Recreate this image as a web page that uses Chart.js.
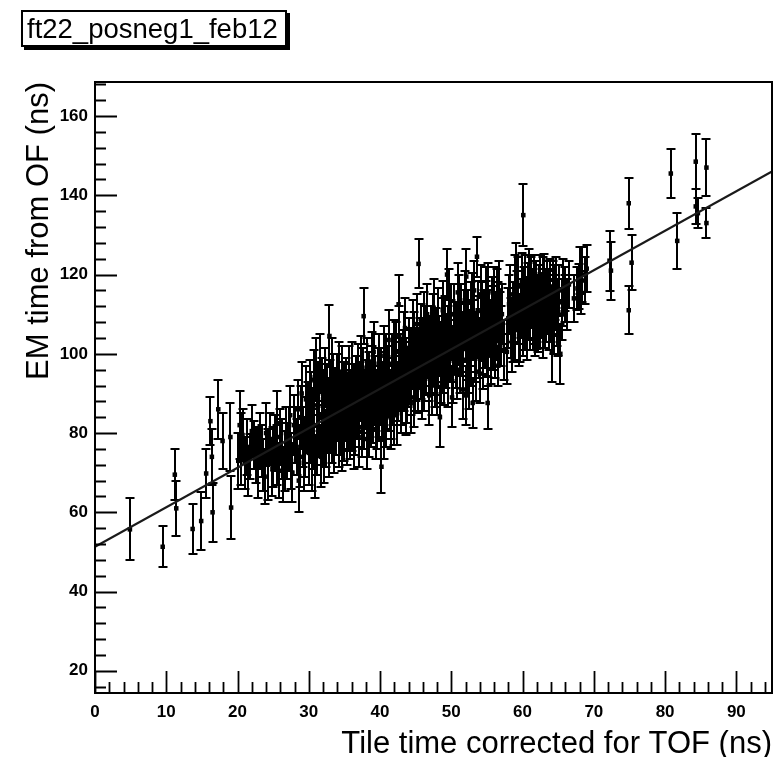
<!DOCTYPE html>
<html>
<head>
<meta charset="utf-8">
<script src="https://cdn.jsdelivr.net/npm/chart.js@4/dist/chart.umd.min.js"></script>
<style>
  html, body { margin: 0; padding: 0; background: #fff; overflow: hidden; }
  #wrap { position: relative; width: 776px; height: 757px; }
  #chart { position: absolute; left: 0; top: 0; }
  #tbox {
    position: absolute; left: 21px; top: 10px; width: 266px; height: 37px;
    box-sizing: border-box; border: 2px solid #000; box-shadow: 3px 3px 0 #000;
    background: #fff; font-family: "Liberation Sans", Arial, sans-serif; font-size: 27.5px;
    line-height: 33px; padding-left: 4px; white-space: nowrap; color: #000; z-index: 2;
  }
</style>
</head>
<body>
<div id="wrap">
  <canvas id="chart" width="776" height="757"></canvas>
  <div id="tbox">ft22_posneg1_feb12</div>
</div>
<script>
// ---- data ----
const xValues = [
  4.9, 9.5, 11.2, 11.4, 13.7, 14.9, 15.6, 16.2, 16.4, 16.5, 17.3, 17.9, 19.0, 19.1,
  20.3, 20.5, 21.0, 21.8, 22.3, 22.9, 23.4, 23.8, 24.3, 24.6, 25.0, 25.5, 25.8, 26.2, 26.4, 26.8, 27.2, 27.5, 27.9, 28.3, 28.6, 28.9, 29.2, 29.3, 29.6, 29.8,
  30.0, 30.2, 30.4, 30.6, 30.9, 31.0, 31.2, 31.5, 31.7, 31.9, 32.1, 32.4, 32.6, 32.9, 33.1, 33.4, 33.6, 33.9, 34.2, 34.4, 34.6, 34.9, 35.1, 35.4, 35.6, 35.9, 36.1, 36.3, 36.6, 36.8, 37.0, 37.3, 37.7, 37.9, 38.2, 38.4, 38.7, 38.9, 39.2, 39.4, 39.7, 39.9,
  40.2, 40.4, 40.6, 40.9, 41.1, 41.4, 41.6, 41.9, 42.1, 42.4, 42.6, 42.9, 43.1, 43.4, 43.6, 43.9, 44.2, 44.3, 44.6, 44.9, 45.1, 45.4, 45.6, 45.9, 46.1, 46.4, 46.7, 46.9, 47.2, 47.5, 47.7, 48.0, 48.2, 48.4, 48.7, 48.9, 49.2, 49.4, 49.6, 49.9,
  50.1, 50.3, 50.6, 50.8, 51.1, 51.3, 51.6, 51.8, 52.1, 52.1, 52.4, 52.6, 52.9, 53.0, 53.3, 53.6, 53.8, 54.0, 54.3, 54.5, 54.8, 55.1, 55.1, 55.4, 55.7, 55.9, 56.2, 56.4, 56.6, 56.8, 57.1, 57.4, 57.8, 58.1, 58.4, 58.6, 58.9, 59.1, 59.3, 59.7,
  60.1, 60.2, 60.4, 60.7, 60.9, 61.0, 61.3, 61.6, 61.8, 62.0, 62.3, 62.6, 62.8, 63.0, 63.3, 63.6, 63.9, 64.1, 64.3, 64.6, 64.8, 65.3, 65.5, 65.7, 65.9, 66.3, 67.7, 67.9, 68.4, 68.7, 69.0,
  72.2, 72.4, 74.9, 74.9, 75.3, 80.8, 81.7, 84.3, 84.3, 84.6, 85.8, 85.8,
  20.1, 20.7, 21.3, 21.5, 22.0, 22.6, 23.1, 23.6, 24.0, 24.9,
  25.2, 25.6, 26.0, 26.6, 27.0, 27.4, 27.7, 28.1, 28.5, 28.8,
  29.0, 29.5, 29.9, 30.1, 30.3, 30.5, 30.7, 30.8, 31.1, 31.3,
  31.4, 31.6, 31.8, 32.0, 32.2, 32.3, 32.5, 32.7, 32.8, 33.0,
  33.2, 33.3, 33.5, 33.7, 33.8, 34.0, 34.1, 34.3, 34.5, 34.7,
  34.8, 35.0, 35.2, 35.3, 35.5, 35.7, 35.8, 36.0, 36.2, 36.4,
  36.5, 36.7, 36.9, 37.1, 37.2, 37.4, 37.5, 37.6, 37.8, 38.0,
  38.1, 38.3, 38.5, 38.6, 38.8, 39.0, 39.1, 39.3, 39.5, 39.6,
  39.8, 40.0, 40.1, 40.3, 40.5, 40.7, 40.8, 41.0, 41.2, 41.3,
  41.5, 41.7, 41.8, 42.0, 42.2, 42.3, 42.5, 42.7, 42.8, 43.0,
  43.2, 43.3, 43.5, 43.7, 43.8, 44.0, 44.1, 44.4, 44.5, 44.7,
  44.8, 45.0, 45.2, 45.3, 45.5, 45.7, 45.8, 46.0, 46.2, 46.3,
  46.5, 46.6, 46.8, 47.0, 47.1, 47.3, 47.4, 47.6, 47.8, 47.9,
  48.1, 48.3, 48.5, 48.6, 48.8, 49.0, 49.1, 49.3, 49.5, 49.7,
  49.8, 50.0, 50.2, 50.4, 50.5, 50.7, 50.9, 51.0, 51.2, 51.4,
  51.5, 51.7, 51.9, 52.0, 52.2, 52.3, 52.5, 52.7, 52.8, 53.1,
  53.2, 53.4, 53.5, 53.7, 53.9, 54.1, 54.2, 54.4, 54.6, 54.7,
  54.9, 55.0, 55.2, 55.3, 55.5, 55.6, 55.8, 56.0, 56.1, 56.3,
  56.5, 56.7, 56.9, 57.0, 58.0, 58.3, 58.5, 58.7, 59.0, 59.2,
  59.4, 59.5, 59.8, 59.9, 60.0, 60.3, 60.5, 60.6, 60.8, 61.1,
  61.2, 61.4, 61.5, 61.7, 61.9, 62.1, 62.2, 62.4, 62.5, 62.7,
  62.9, 63.1, 63.2, 63.4, 63.5, 63.7, 63.8, 64.0, 64.2, 64.4,
  64.5, 64.7, 64.9, 65.0, 65.1, 65.6, 66.0, 66.5, 67.2, 68.0,
  68.2
];
const yValues = [
  55.7, 51.3, 69.5, 61.0, 55.8, 57.8, 69.8, 83.0, 74.0, 60.0, 86.0, 78.0, 79.0, 61.2,
  82.0, 76.0, 72.5, 74.0, 77.0, 72.5, 75.5, 69.0, 72.0, 78.5, 74.0, 82.5, 70.5, 76.0, 69.5, 80.0, 78.5, 73.0, 82.0, 76.5, 68.0, 84.0, 79.0, 72.5, 88.5, 82.0,
  75.0, 91.0, 84.5, 79.0, 71.5, 96.0, 87.0, 81.0, 74.0, 92.0, 85.5, 78.5, 89.5, 104.5, 82.5, 93.0, 77.5, 87.0, 95.5, 81.5, 78.0, 90.5, 85.0, 79.5, 95.0, 88.0, 82.5, 78.5, 92.0, 85.5, 79.0, 97.0, 109.5, 88.5, 78.5, 93.5, 84.0, 98.0, 89.0, 81.0, 94.5, 86.5,
  71.5, 91.0, 99.5, 84.0, 95.0, 88.0, 82.5, 101.0, 92.5, 85.0, 112.5, 97.0, 89.5, 103.0, 86.5, 94.0, 99.5, 87.5, 106.0, 92.5, 98.5, 122.7, 102.0, 91.0, 108.0, 96.5, 101.5, 89.5, 105.0, 111.5, 94.0, 92.0, 99.0, 84.0, 106.5, 97.0, 102.5, 120.0, 93.5, 110.0,
  89.0, 100.0, 105.5, 96.0, 112.5, 101.5, 91.0, 108.5, 119.5, 89.5, 97.5, 104.0, 113.0, 87.6, 100.5, 124.5, 107.0, 95.0, 110.5, 102.0, 114.5, 87.6, 99.5, 106.5, 112.0, 103.5, 108.5, 114.0, 97.0, 104.5, 110.0, 101.0, 100.5, 112.5, 106.5, 105.5, 117.5, 120.5, 110.0, 106.5,
  135.0, 114.5, 108.0, 111.5, 119.0, 108.5, 113.5, 117.5, 110.0, 108.5, 115.0, 111.0, 117.0, 118.0, 110.5, 114.5, 117.0, 100.4, 111.5, 115.5, 109.0, 100.0, 113.0, 117.0, 116.3, 112.5, 116.5, 117.0, 120.0, 118.5, 121.5,
  123.5, 121.0, 138.0, 111.0, 123.0, 145.5, 128.5, 148.5, 137.2, 135.5, 147.0, 133.0,
  73.0, 79.5, 76.5, 70.0, 80.5, 74.5, 78.0, 72.0, 80.0, 71.0,
  77.5, 74.5, 79.0, 73.0, 75.5, 84.5, 70.0, 79.5, 86.0, 74.0,
  90.0, 76.5, 85.5, 80.0, 88.0, 73.5, 93.5, 82.0, 77.0, 90.0,
  84.0, 97.5, 79.5, 88.5, 75.5, 94.0, 82.5, 86.5, 77.0, 91.0,
  96.5, 80.0, 85.5, 89.5, 82.0, 92.5, 86.0, 79.0, 88.5, 94.5,
  83.0, 80.5, 91.5, 87.5, 83.5, 90.0, 81.0, 95.5, 87.0, 90.5,
  82.0, 88.0, 95.0, 84.0, 90.5, 81.5, 87.5, 94.0, 83.5, 91.0,
  96.5, 87.0, 81.5, 90.0, 94.5, 85.0, 100.5, 92.0, 88.0, 83.5,
  97.5, 89.5, 94.0, 86.0, 81.0, 93.0, 97.5, 88.5, 103.5, 91.5,
  86.0, 97.5, 89.5, 84.5, 95.5, 100.5, 90.5, 104.5, 93.5, 87.5,
  98.5, 93.0, 106.5, 96.5, 90.0, 101.5, 95.5, 92.0, 98.5, 89.0,
  103.0, 95.5, 107.5, 92.5, 99.0, 105.0, 96.0, 101.0, 93.0, 104.5,
  99.5, 110.0, 95.5, 102.0, 97.5, 92.0, 107.5, 100.0, 104.0, 97.0,
  109.0, 102.0, 95.0, 100.5, 111.0, 94.5, 107.0, 99.0, 104.5, 114.0,
  101.0, 106.0, 95.0, 110.0, 102.5, 99.0, 115.5, 105.5, 97.5, 110.0,
  103.0, 98.5, 113.5, 105.5, 101.0, 108.5, 93.5, 110.5, 99.5, 106.0,
  116.0, 103.0, 95.5, 111.0, 101.5, 106.5, 115.0, 98.5, 108.5, 104.0,
  111.0, 102.0, 115.5, 108.5, 100.0, 104.0, 109.5, 114.5, 101.5, 106.0,
  110.5, 116.0, 108.0, 104.5, 109.0, 115.0, 103.0, 110.5, 106.0, 113.5,
  117.0, 104.5, 111.5, 118.0, 107.0, 117.5, 112.0, 106.0, 115.5, 111.0,
  117.0, 108.0, 114.0, 106.5, 116.0, 112.5, 107.5, 118.0, 109.0, 113.5,
  106.5, 114.5, 108.5, 116.5, 112.0, 108.0, 114.0, 110.0, 116.5, 107.0,
  113.0, 118.0, 112.0, 106.5, 116.0, 110.0, 114.0, 117.5, 114.0, 121.0,
  115.5
];
const yErrors = [
  7.8, 5.2, 6.5, 7.0, 6.4, 7.3, 6.2, 6.0, 7.0, 7.5, 7.5, 7.0, 8.5, 8.0,
  8.5, 9.0, 6.5, 5.7, 6.0, 9.0, 6.5, 7.0, 9.0, 6.5, 7.5, 8.0, 7.0, 7.5, 7.0, 6.5, 8.0, 7.0, 7.5, 7.0, 8.0, 8.0, 7.5, 7.0, 8.5, 7.0,
  8.0, 7.5, 7.0, 8.0, 8.0, 8.0, 7.5, 7.0, 7.5, 7.0, 8.0, 7.0, 8.0, 7.8, 7.5, 7.0, 7.5, 7.0, 7.5, 7.0, 7.5, 7.5, 7.0, 7.5, 7.0, 8.0, 7.0, 7.5, 7.5, 7.0, 7.5, 7.5, 7.0, 7.5, 7.5, 7.0, 7.5, 7.5, 7.0, 7.5, 7.0, 7.5,
  6.5, 7.0, 7.5, 7.5, 7.0, 7.5, 6.5, 7.5, 7.0, 8.0, 7.5, 7.0, 7.5, 7.5, 7.0, 7.5, 7.0, 7.5, 7.5, 7.0, 7.5, 6.2, 7.0, 7.5, 7.5, 7.0, 7.5, 7.5, 7.0, 7.5, 7.5, 7.5, 7.0, 7.5, 7.5, 7.0, 7.5, 6.5, 7.0, 7.5,
  7.5, 7.0, 7.5, 7.5, 7.5, 7.0, 7.5, 7.5, 7.0, 7.5, 7.5, 7.0, 7.5, 6.3, 7.5, 5.0, 7.5, 7.5, 7.5, 7.0, 7.5, 6.5, 7.5, 7.0, 7.5, 7.5, 7.0, 7.5, 5.0, 7.5, 7.5, 7.5, 8.0, 7.5, 7.5, 7.5, 7.5, 7.5, 7.5, 8.5,
  7.8, 7.5, 7.0, 7.5, 7.5, 7.5, 7.0, 7.5, 7.5, 7.2, 7.5, 7.0, 7.5, 7.2, 7.5, 7.0, 7.0, 7.5, 7.0, 7.0, 7.0, 7.5, 6.0, 7.0, 5.5, 6.5, 5.5, 5.7, 7.0, 6.0, 6.0,
  7.6, 7.3, 6.4, 6.0, 7.0, 6.2, 7.0, 7.0, 4.5, 3.8, 7.2, 3.7,
  7.0, 6.5, 7.0, 6.0, 6.5, 7.0, 7.0, 6.5, 7.5, 7.0,
  7.0, 7.5, 7.0, 7.5, 7.0, 7.5, 7.5, 7.0, 7.5, 7.5,
  8.0, 7.5, 7.5, 7.5, 7.5, 8.0, 7.5, 7.5, 7.5, 8.0,
  7.5, 7.5, 7.5, 7.5, 8.0, 7.5, 7.5, 7.5, 8.0, 7.5,
  7.5, 7.5, 7.5, 7.0, 7.5, 7.5, 7.5, 7.5, 7.0, 7.5,
  7.5, 7.5, 7.5, 7.0, 7.5, 7.5, 7.5, 7.5, 7.5, 7.0,
  7.5, 7.5, 7.5, 7.5, 7.5, 7.5, 7.5, 7.5, 7.5, 7.5,
  7.5, 7.0, 7.5, 7.5, 7.5, 7.5, 7.5, 7.5, 7.5, 7.5,
  7.5, 7.5, 7.5, 7.5, 7.5, 7.5, 7.5, 7.5, 7.5, 7.5,
  7.5, 7.5, 7.5, 7.5, 7.5, 7.5, 7.5, 7.5, 7.5, 7.5,
  7.5, 7.5, 7.5, 7.5, 7.5, 7.5, 7.5, 7.5, 7.5, 7.5,
  7.5, 7.5, 7.5, 7.5, 7.5, 7.5, 7.5, 7.5, 7.5, 7.5,
  7.5, 7.5, 7.5, 7.5, 7.5, 7.5, 7.5, 7.5, 7.5, 7.5,
  7.5, 7.5, 7.5, 7.5, 7.5, 7.5, 7.5, 7.5, 7.5, 7.5,
  7.5, 7.5, 7.5, 7.5, 7.5, 7.5, 7.5, 7.5, 7.5, 7.5,
  7.5, 7.5, 7.5, 7.5, 7.5, 7.5, 7.5, 7.5, 7.5, 7.5,
  7.5, 7.5, 7.5, 7.5, 7.5, 7.5, 7.5, 7.5, 7.5, 7.5,
  7.5, 7.5, 7.5, 7.5, 7.5, 7.5, 7.5, 7.5, 7.5, 7.5,
  7.5, 7.5, 7.5, 7.5, 7.5, 7.5, 7.5, 7.5, 7.5, 7.5,
  7.5, 7.5, 7.5, 7.5, 7.5, 7.5, 7.5, 7.5, 7.5, 7.5,
  7.5, 7.0, 7.5, 7.0, 7.5, 7.5, 7.0, 7.0, 7.5, 7.0,
  7.5, 7.0, 7.0, 7.0, 7.0, 7.0, 7.0, 7.0, 7.0, 7.0,
  7.0, 6.5, 7.0, 7.0, 6.5, 6.5, 6.0, 6.0, 6.0, 6.0,
  5.5
];
// straight-line fit drawn across the full x range
const fitX = [0, 95];
const fitY = [51.3, 146.0];
// axis ranges and tick labels
const xRange = [0, 95];
const yRange = [14.4, 168.6];
const xTickVals = [0, 10, 20, 30, 40, 50, 60, 70, 80, 90];
const yTickVals = [20, 40, 60, 80, 100, 120, 140, 160];
const xMinorStep = 2;
const yMinorStep = 4;
const xTitle = "Tile time corrected for TOF (ns)";
const yTitle = "EM time from OF (ns)";

// ---- chart ----
const nPts = Math.min(xValues.length, yValues.length, yErrors.length);
const pts = [];
for (let i = 0; i < nPts; i++) pts.push({ x: xValues[i], y: yValues[i], err: yErrors[i] });

const FONT = '"Liberation Sans", Arial, Helvetica, sans-serif';

const rootStyle = {
  id: 'rootStyle',
  beforeDatasetsDraw(chart) {
    const { ctx, chartArea: a, scales: { x, y } } = chart;
    const ds = chart.data.datasets[0].data;
    ctx.save();
    ctx.beginPath(); ctx.rect(a.left, a.top, a.right - a.left, a.bottom - a.top); ctx.clip();
    ctx.strokeStyle = '#000'; ctx.lineWidth = 2;
    ctx.beginPath();
    for (const p of ds) {
      const px = Math.round(x.getPixelForValue(p.x));
      const y1 = Math.round(y.getPixelForValue(p.y + p.err));
      const y2 = Math.round(y.getPixelForValue(p.y - p.err));
      ctx.moveTo(px, y1); ctx.lineTo(px, y2);
      ctx.moveTo(px - 4.5, y1); ctx.lineTo(px + 4.5, y1);
      ctx.moveTo(px - 4.5, y2); ctx.lineTo(px + 4.5, y2);
    }
    ctx.stroke();
    ctx.restore();
  },
  afterDraw(chart) {
    const { ctx, chartArea: a, scales: { x, y } } = chart;
    ctx.save();
    ctx.strokeStyle = '#000';
    ctx.lineWidth = 2;
    ctx.strokeRect(a.left, a.top, a.right - a.left, a.bottom - a.top);
    ctx.beginPath();
    for (let v = Math.ceil(yRange[0] / yMinorStep) * yMinorStep; v <= yRange[1]; v += yMinorStep) {
      const py = Math.round(y.getPixelForValue(v)) + 0.5;
      const major = yTickVals.includes(v);
      ctx.moveTo(a.left, py); ctx.lineTo(a.left + (major ? 22 : 11), py);
    }
    for (let v = Math.ceil(xRange[0] / xMinorStep) * xMinorStep; v <= xRange[1]; v += xMinorStep) {
      const px = Math.round(x.getPixelForValue(v)) + 0.5;
      const major = xTickVals.includes(v);
      ctx.moveTo(px, a.bottom); ctx.lineTo(px, a.bottom - (major ? 22 : 11));
    }
    ctx.lineWidth = 1.8;
    ctx.stroke();
    ctx.restore();
  }
};

new Chart(document.getElementById('chart'), {
  type: 'scatter',
  data: {
    datasets: [
      {
        label: 'data',
        data: pts,
        order: 1,
        backgroundColor: '#000',
        borderColor: '#000',
        pointStyle: 'rect',
        pointRadius: 3.2,
        borderWidth: 0
      },
      {
        type: 'line',
        label: 'fit',
        data: fitX.map((v, i) => ({ x: v, y: fitY[i] })),
        order: 0,
        borderColor: '#1a1a1a',
        borderWidth: 2.2,
        pointRadius: 0,
        fill: false
      }
    ]
  },
  options: {
    responsive: false,
    animation: false,
    events: [],
    layout: { padding: { top: 82, right: 4, bottom: 0, left: 0 } },
    plugins: { legend: { display: false }, tooltip: { enabled: false }, title: { display: false } },
    scales: {
      x: {
        type: 'linear',
        min: xRange[0], max: xRange[1],
        afterFit(s) { s.height = 64; },
        afterBuildTicks(s) { s.ticks = xTickVals.map(v => ({ value: v })); },
        grid: { display: false, drawTicks: false },
        border: { display: false },
        ticks: { color: '#000', padding: 9, maxRotation: 0, autoSkip: false,
                 font: { family: FONT, size: 17, weight: 'bold' } },
        title: { display: true, text: xTitle, align: 'end', color: '#000',
                 font: { family: FONT, size: 31, lineHeight: 0.8 }, padding: 0 }
      },
      y: {
        type: 'linear',
        min: yRange[0], max: yRange[1],
        afterFit(s) { s.width = 95; },
        afterBuildTicks(s) { s.ticks = yTickVals.map(v => ({ value: v })); },
        grid: { display: false, drawTicks: false },
        border: { display: false },
        ticks: { color: '#000', padding: 7, autoSkip: false,
                 font: { family: FONT, size: 17, weight: 'bold' } },
        title: { display: true, text: yTitle, align: 'end', color: '#000',
                 font: { family: FONT, size: 31, lineHeight: 1.2 }, padding: { top: 21, bottom: 0 } }
      }
    }
  },
  plugins: [rootStyle]
});
</script>
</body>
</html>
